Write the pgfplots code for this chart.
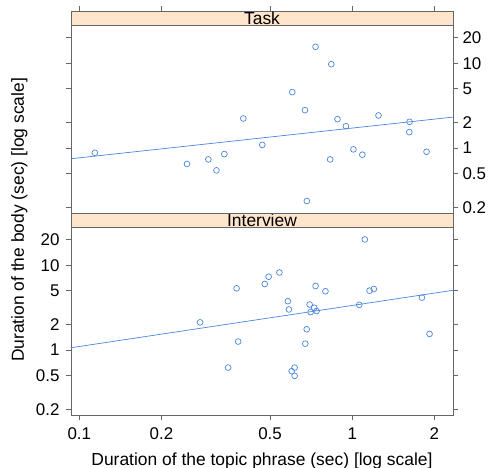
\documentclass[border=0pt]{standalone}
\usepackage{fontspec}
\setmainfont{Liberation Sans}
\usepackage{pgfplots}
\pgfplotsset{compat=1.18}
\definecolor{ptcol}{HTML}{4A86DC}
\definecolor{stripcol}{HTML}{FFE5CC}
\definecolor{framecol}{gray}{0.4}

\begin{document}
\begin{tikzpicture}
\useasboundingbox (-71bp,-53bp) rectangle (419bp,415bp);

% Interview panel (bottom)
\begin{axis}[
  at={(0bp,0bp)}, anchor=south west,
  scale only axis, width=382bp, height=202bp,
  xmode=log, ymode=log,
  xmin=0.0932, xmax=2.34, ymin=0.1718, ymax=41.2,
  xtick={0.1,0.2,0.5,1,2}, xticklabels={0.1,0.2,0.5,1,2},
  ytick={0.2,0.5,1,2,5,10,20}, yticklabels={0.2,0.5,1,2,5,10,20},
  tick align=outside, major tick length=5bp,
  axis line style={framecol, line width=0.6bp},
  tick style={framecol, line width=0.6bp},
  ticklabel style={font=\fontsize{17}{20}\selectfont},
  xticklabel style={yshift=-4bp},
  yticklabel style={xshift=-3bp},
  xtick pos=lower, ytick pos=both, yticklabel pos=left]
\addplot[only marks, mark=o, mark size=2.9bp, color=ptcol, line width=0.7bp] coordinates {
  (0.277,2.12) (0.351,0.622) (0.377,5.34) (0.382,1.26) (0.478,6.0)
  (0.494,7.31) (0.541,8.21) (0.581,3.77) (0.586,3.01) (0.600,0.564)
  (0.615,0.622) (0.615,0.497) (0.673,1.19) (0.681,1.76) (0.698,3.44)
  (0.704,2.80) (0.726,3.15) (0.734,5.69) (0.740,2.88) (0.798,4.93)
  (1.061,3.41) (1.112,20.1) (1.157,5.01) (1.20,5.24) (1.80,4.15)
  (1.92,1.55)
};
\addplot[color=ptcol, line width=0.7bp, no marks] coordinates {(0.0932,1.065) (2.34,5.06)};
\draw[framecol, line width=0.6bp, fill=stripcol]
  (rel axis cs:0,0.928) rectangle (rel axis cs:1,1);
\node[font=\fontsize{17.5}{20}\selectfont, inner sep=0pt]
  at (rel axis cs:0.5,0.964) {Interview};
\end{axis}

% Task panel (top)
\begin{axis}[
  at={(0bp,202bp)}, anchor=south west,
  scale only axis, width=382bp, height=202bp,
  xmode=log, ymode=log,
  xmin=0.0932, xmax=2.34, ymin=0.1718, ymax=41.2,
  xtick={0.1,0.2,0.5,1,2}, xticklabels={},
  ytick={0.2,0.5,1,2,5,10,20}, yticklabels={0.2,0.5,1,2,5,10,20},
  tick align=outside, major tick length=5bp,
  axis line style={framecol, line width=0.6bp},
  tick style={framecol, line width=0.6bp},
  ticklabel style={font=\fontsize{17}{20}\selectfont},
  yticklabel style={xshift=1bp},
  xtick pos=upper, ytick pos=both, yticklabel pos=right]
\addplot[only marks, mark=o, mark size=2.9bp, color=ptcol, line width=0.7bp] coordinates {
  (0.114,0.88) (0.248,0.65) (0.297,0.735) (0.318,0.546) (0.340,0.85)
  (0.399,2.23) (0.468,1.09) (0.603,4.56) (0.671,2.80) (0.682,0.238)
  (0.734,15.6) (0.830,0.735) (0.838,9.73) (0.883,2.19) (0.948,1.81)
  (1.01,0.965) (1.089,0.835) (1.248,2.42) (1.622,2.04) (1.618,1.54)
  (1.872,0.905)
};
\addplot[color=ptcol, line width=0.7bp, no marks] coordinates {(0.0932,0.749) (2.34,2.317)};
\draw[framecol, line width=0.6bp, fill=stripcol]
  (rel axis cs:0,0.928) rectangle (rel axis cs:1,1);
\node[font=\fontsize{17.5}{20}\selectfont, inner sep=0pt]
  at (rel axis cs:0.5,0.964) {Task};
\end{axis}

\node[font=\fontsize{17.5}{20}\selectfont, anchor=base] at (191bp,-50bp)
  {Duration of the topic phrase (sec) [log scale]};
\node[font=\fontsize{17.5}{20}\selectfont, rotate=90, anchor=base] at (-47bp,195bp)
  {Duration of the body (sec) [log scale]};
\end{tikzpicture}
\end{document}
